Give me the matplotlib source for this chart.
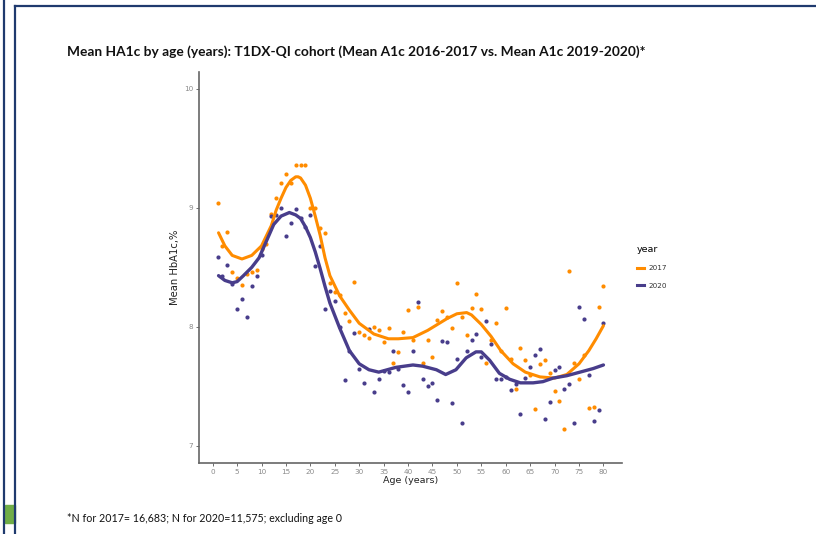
import matplotlib
matplotlib.use("Agg")
import matplotlib.pyplot as plt
from matplotlib.patches import Rectangle
from matplotlib.lines import Line2D

# mean HbA1c per age
ages = list(range(1, 81))
a1c_2017 = [9.04, 8.68, 8.80, 8.46, 8.41, 8.35, 8.44, 8.46, 8.48, 8.65,
            8.70, 8.95, 9.08, 9.21, 9.28, 9.21, 9.36, 9.36, 9.36, 9.00,
            9.00, 8.83, 8.79, 8.37, 8.29, 8.27, 8.12, 8.05, 8.38, 7.96,
            7.93, 7.91, 8.00, 7.97, 7.87, 7.99, 7.70, 7.79, 7.96, 8.14,
            7.89, 8.17, 7.70, 7.89, 7.75, 8.06, 8.13, 8.08, 7.99, 8.37,
            8.08, 7.93, 8.16, 8.28, 8.15, 7.70, 7.89, 8.03, 7.80, 8.16,
            7.73, 7.48, 7.82, 7.72, 7.60, 7.31, 7.69, 7.72, 7.61, 7.46,
            7.38, 7.14, 8.47, 7.70, 7.56, 7.76, 7.32, 7.33, 8.17, 8.34]
a1c_2020 = [8.59, 8.43, 8.52, 8.36, 8.15, 8.23, 8.08, 8.34, 8.43, 8.60,
            8.75, 8.93, 8.94, 9.00, 8.76, 8.87, 8.99, 8.91, 8.84, 8.94,
            8.51, 8.68, 8.15, 8.30, 8.22, 8.00, 7.55, 7.80, 7.95, 7.65,
            7.53, 7.98, 7.45, 7.56, 7.63, 7.62, 7.80, 7.65, 7.51, 7.45,
            7.80, 8.21, 7.56, 7.50, 7.53, 7.39, 7.88, 7.87, 7.36, 7.73,
            7.19, 7.80, 7.89, 7.94, 7.75, 8.05, 7.86, 7.56, 7.56, 7.58,
            7.47, 7.52, 7.27, 7.57, 7.66, 7.76, 7.81, 7.23, 7.37, 7.64,
            7.66, 7.48, 7.52, 7.19, 8.17, 8.07, 7.60, 7.21, 7.30, 8.03]

# smoothed curves
fit_age_2017 = [1.2, 2.5, 4, 6, 8, 10, 12, 13, 14, 15, 16, 17, 17.5, 18, 19, 20,
                21, 22, 23, 24, 26, 28, 30, 33, 36, 38, 41, 44, 46, 48, 50, 52,
                53, 55, 57, 59, 61.5, 64, 67, 70, 72.5, 75, 77, 78.5, 80]
fit_2017 = [8.79, 8.68, 8.60, 8.57, 8.60, 8.68, 8.85, 8.98, 9.08, 9.17, 9.23, 9.26,
            9.26, 9.25, 9.19, 9.08, 8.93, 8.77, 8.58, 8.43, 8.26, 8.14, 8.03, 7.94,
            7.90, 7.90, 7.91, 7.97, 8.02, 8.07, 8.11, 8.12, 8.10, 8.02, 7.92, 7.80,
            7.69, 7.62, 7.58, 7.57, 7.60, 7.69, 7.80, 7.90, 8.01]
fit_age_2020 = [1.2, 2.5, 4, 5, 6.3, 8, 9.5, 11, 12.5, 14, 15.7, 17, 18, 19, 20,
                21, 22, 23, 24, 26, 28, 30, 32, 34, 37.5, 41, 43, 45.8, 47.7, 49.8,
                51.9, 53.9, 55, 56.7, 58.7, 60.8, 63, 65.6, 67.6, 69.7, 72.5, 75.2,
                77.9, 80]
fit_2020 = [8.43, 8.39, 8.37, 8.38, 8.43, 8.50, 8.58, 8.72, 8.86, 8.93, 8.96, 8.94,
            8.91, 8.84, 8.75, 8.63, 8.49, 8.34, 8.20, 7.99, 7.80, 7.69, 7.64, 7.62,
            7.66, 7.68, 7.67, 7.64, 7.60, 7.64, 7.74, 7.79, 7.79, 7.72, 7.61, 7.56,
            7.53, 7.53, 7.54, 7.57, 7.59, 7.62, 7.65, 7.68]

orange = "#FF8C00"
purple = "#483D8B"
navy = "#1F3A6E"

fig = plt.figure(figsize=(8.16, 5.34), dpi=100)

# slide frame
fig.add_artist(Line2D([4 / 816, 4 / 816], [0, 1], color=navy, lw=1.6))
fig.add_artist(Line2D([15.5 / 816, 15.5 / 816], [0, 1 - 6 / 534], color=navy, lw=1.6))
fig.add_artist(Line2D([15.5 / 816, 1], [1 - 6 / 534, 1 - 6 / 534], color=navy, lw=1.6))
fig.add_artist(Rectangle((5 / 816, 1 - 523 / 534), 10 / 816, 18 / 534,
                         color="#70AD47", transform=fig.transFigure))

ax = fig.add_axes([199 / 816, 1 - 463 / 534, 423 / 816, 391 / 534])

ax.scatter(ages, a1c_2017, s=9, color=orange, lw=0, zorder=2)
ax.scatter(ages, a1c_2020, s=9, color=purple, lw=0, zorder=2)
ax.plot(fit_age_2017, fit_2017, color=orange, lw=2.2, zorder=3,
        solid_capstyle="round", solid_joinstyle="round")
ax.plot(fit_age_2020, fit_2020, color=purple, lw=2.4, zorder=3,
        solid_capstyle="round", solid_joinstyle="round")

ax.set_xlim(-2.8, 83.8)
ax.set_ylim(6.857, 10.14)
ax.set_xticks(range(0, 81, 5))
ax.set_yticks([7, 8, 9, 10])
ax.tick_params(labelsize=5.2, labelcolor="#8a8a8a", color="#555555",
               length=2, width=0.6, pad=2)
for side in ["top", "right"]:
    ax.spines[side].set_visible(False)
for side in ["left", "bottom"]:
    ax.spines[side].set_color("#666666")
    ax.spines[side].set_linewidth(1.2)

ax.set_xlabel("Age (years)", fontsize=6.8, color="#222222", labelpad=1)
ax.set_ylabel("Mean HbA1c,%", fontsize=7.2, color="#222222", labelpad=3)

handles = [Line2D([], [], color=orange, lw=2.2), Line2D([], [], color=purple, lw=2.2)]
leg = fig.legend(handles, ["2017", "2020"], title="year", loc="upper left",
                 bbox_to_anchor=(630 / 816, 1 - 238 / 534), frameon=False,
                 fontsize=5.2, title_fontsize=6.8, handlelength=1.0,
                 handletextpad=0.6, labelspacing=1.6)
leg._legend_box.align = "left"
for t in leg.get_texts():
    t.set_color("#333333")

fig.text(67 / 816, 1 - 52 / 534,
         "Mean HA1c by age (years): T1DX-QI cohort (Mean A1c 2016-2017 vs. Mean A1c 2019-2020)*",
         fontsize=9.9, fontweight="bold", family="Lato", va="center", color="#111111")
fig.text(67 / 816, 1 - 519 / 534,
         "*N for 2017= 16,683; N for 2020=11,575; excluding age 0",
         fontsize=7.7, family="Lato", va="center", color="#111111")

fig.savefig("out.png", dpi=100)
